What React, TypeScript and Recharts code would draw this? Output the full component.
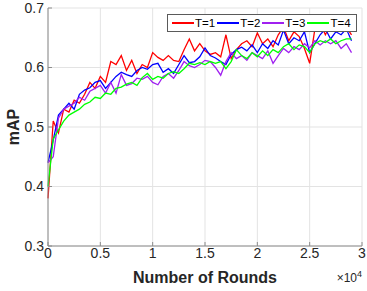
import {
  LineChart,
  Line,
  XAxis,
  YAxis,
  CartesianGrid,
  Label,
} from "recharts";

const rounds = [
  0, 500, 1000, 1500, 2000, 2500, 3000, 3500, 4000, 4500, 5000, 5500, 6000,
  6500, 7000, 7500, 8000, 8500, 9000, 9500, 10000, 10500, 11000, 11500, 12000,
  12500, 13000, 13500, 14000, 14500, 15000, 15500, 16000, 16500, 17000, 17500,
  18000, 18500, 19000, 19500, 20000, 20500, 21000, 21500, 22000, 22500, 23000,
  23500, 24000, 24500, 25000, 25500, 26000, 26500, 27000, 27500, 28000, 28500,
  29000,
];

const t1 = [
  0.38, 0.51, 0.49, 0.53, 0.525, 0.545, 0.54, 0.555, 0.575, 0.565, 0.585, 0.575,
  0.61, 0.605, 0.62, 0.595, 0.612, 0.59, 0.605, 0.6, 0.625, 0.617, 0.612, 0.62,
  0.612, 0.61, 0.63, 0.648, 0.628, 0.64, 0.628, 0.622, 0.625, 0.618, 0.655,
  0.615, 0.63, 0.64, 0.645, 0.635, 0.658, 0.64, 0.648, 0.635, 0.655, 0.668,
  0.645, 0.66, 0.652, 0.632, 0.607, 0.665, 0.675, 0.655, 0.672, 0.66, 0.675,
  0.668, 0.655,
];

const t2 = [
  0.44, 0.478, 0.52, 0.53, 0.54, 0.53, 0.555, 0.562, 0.566, 0.575, 0.578, 0.565,
  0.575, 0.585, 0.592, 0.588, 0.585, 0.595, 0.6, 0.597, 0.605, 0.607, 0.592,
  0.598, 0.59, 0.605, 0.62, 0.608, 0.61, 0.618, 0.633, 0.62, 0.616, 0.61, 0.605,
  0.622, 0.63, 0.634, 0.628, 0.638, 0.625, 0.64, 0.632, 0.645, 0.638, 0.663,
  0.64, 0.65, 0.645, 0.66, 0.625, 0.64, 0.655, 0.665, 0.648, 0.66, 0.655, 0.665,
  0.645,
];

const t3 = [
  0.44, 0.45, 0.515, 0.53, 0.535, 0.54, 0.55, 0.545, 0.56, 0.565, 0.57, 0.557,
  0.575, 0.557, 0.588, 0.57, 0.573, 0.582, 0.58, 0.585, 0.575, 0.571, 0.585,
  0.59, 0.582, 0.595, 0.61, 0.603, 0.6, 0.605, 0.612, 0.61, 0.6, 0.587, 0.61,
  0.625, 0.615, 0.62, 0.612, 0.625, 0.62, 0.615, 0.628, 0.607, 0.62, 0.632,
  0.625, 0.635, 0.63, 0.64, 0.633, 0.645, 0.638, 0.645, 0.64, 0.645, 0.632,
  0.64, 0.625,
];

const t4 = [
  0.4, 0.48, 0.495, 0.51, 0.52, 0.525, 0.53, 0.538, 0.542, 0.55, 0.548, 0.557,
  0.555, 0.565, 0.567, 0.572, 0.575, 0.57, 0.583, 0.59, 0.58, 0.585, 0.582,
  0.59, 0.593, 0.59, 0.598, 0.607, 0.605, 0.608, 0.605, 0.61, 0.607, 0.61,
  0.598, 0.61, 0.63, 0.62, 0.615, 0.625, 0.618, 0.628, 0.62, 0.63, 0.625, 0.635,
  0.64, 0.63, 0.638, 0.635, 0.625, 0.64, 0.645, 0.642, 0.648, 0.64, 0.645,
  0.648, 0.648,
];

const xTicks = [0, 5000, 10000, 15000, 20000, 25000, 30000];
const yTicks = [0.3, 0.4, 0.5, 0.6, 0.7];

const series = [
  { key: "t1", name: "T=1", color: "#ff0000" },
  { key: "t2", name: "T=2", color: "#0000ff" },
  { key: "t3", name: "T=3", color: "#a020f0" },
  { key: "t4", name: "T=4", color: "#00ff00" },
];

const data = rounds.map((r, i) => ({
  r,
  t1: t1[i],
  t2: t2[i],
  t3: t3[i],
  t4: t4[i],
}));

const FONT = "'Liberation Sans', Arial, Helvetica, sans-serif";
const AXIS = "#8c8c8c";
const TEXT = "#262626";

// legend is drawn as a plain box over the chart so it doesn't eat plot space
function LegendBox() {
  return (
    <div
      style={{
        position: "absolute",
        left: 167,
        top: 14,
        display: "flex",
        alignItems: "center",
        background: "#fff",
        border: "1px solid #5a5a5a",
        padding: "1px 3px 1px 4px",
        fontFamily: FONT,
        fontSize: 11.5,
        color: "#000",
        lineHeight: "14px",
      }}
    >
      {series.map((s) => (
        <span
          key={s.key}
          style={{ display: "inline-flex", alignItems: "center", marginRight: 2 }}
        >
          <span
            style={{
              display: "inline-block",
              width: 22,
              height: 1.4,
              background: s.color,
              marginRight: 1,
            }}
          />
          {s.name}
        </span>
      ))}
    </div>
  );
}

export default function App() {
  return (
    <div style={{ position: "absolute", left: 0, top: 0, background: "#fff" }}>
      <LineChart
        width={367}
        height={291}
        data={data}
        margin={{ top: 8, right: 5, left: 0, bottom: 0 }}
        style={{ fontFamily: FONT }}
      >
        <CartesianGrid stroke="#e3e3e3" strokeWidth={1} />
        <XAxis
          dataKey="r"
          type="number"
          domain={[0, 30000]}
          ticks={xTicks}
          tickFormatter={(v) => String(v / 10000)}
          height={45}
          stroke={AXIS}
          tickSize={-4}
          tickMargin={6}
          tick={{ fill: TEXT, fontSize: 14 }}
        >
          <Label
            value="Number of Rounds"
            position="insideBottom"
            offset={8}
            style={{ fontWeight: "bold", fontSize: 16, fill: TEXT }}
          />
          <Label
            position="insideBottomRight"
            content={(props: any) => {
              const vb = props.viewBox;
              return (
                <text
                  x={vb.x + vb.width}
                  y={vb.y + vb.height - 9}
                  textAnchor="end"
                  fill={TEXT}
                  fontSize={12}
                >
                  ×10
                  <tspan dy={-5} fontSize={9}>
                    4
                  </tspan>
                </text>
              );
            }}
          />
        </XAxis>
        <XAxis
          xAxisId="top"
          dataKey="r"
          type="number"
          orientation="top"
          domain={[0, 30000]}
          ticks={xTicks}
          height={0}
          stroke={AXIS}
          tickSize={-4}
          tickFormatter={() => ""}
        />
        <YAxis
          type="number"
          domain={[0.3, 0.7]}
          ticks={yTicks}
          width={48}
          stroke={AXIS}
          tickSize={-4}
          tickMargin={8}
          tickFormatter={(v) => String(v)}
          tick={{ fill: TEXT, fontSize: 14 }}
        >
          <Label
            position="insideLeft"
            content={(props: any) => {
              const vb = props.viewBox;
              const cx = vb.x + 13;
              const cy = vb.y + vb.height / 2;
              return (
                <text
                  x={cx}
                  y={cy}
                  transform={`rotate(-90 ${cx} ${cy})`}
                  textAnchor="middle"
                  dominantBaseline="central"
                  fill={TEXT}
                  fontSize={16}
                  fontWeight="bold"
                >
                  mAP
                </text>
              );
            }}
          />
        </YAxis>
        <YAxis
          yAxisId="right"
          orientation="right"
          type="number"
          domain={[0.3, 0.7]}
          ticks={yTicks}
          width={0}
          stroke={AXIS}
          tickSize={-4}
          tickFormatter={() => ""}
        />
        {series.map((s) => (
          <Line
            key={s.key}
            dataKey={s.key}
            name={s.name}
            stroke={s.color}
            strokeWidth={1.3}
            dot={false}
            type="linear"
            isAnimationActive={false}
          />
        ))}
      </LineChart>
      <LegendBox />
    </div>
  );
}
